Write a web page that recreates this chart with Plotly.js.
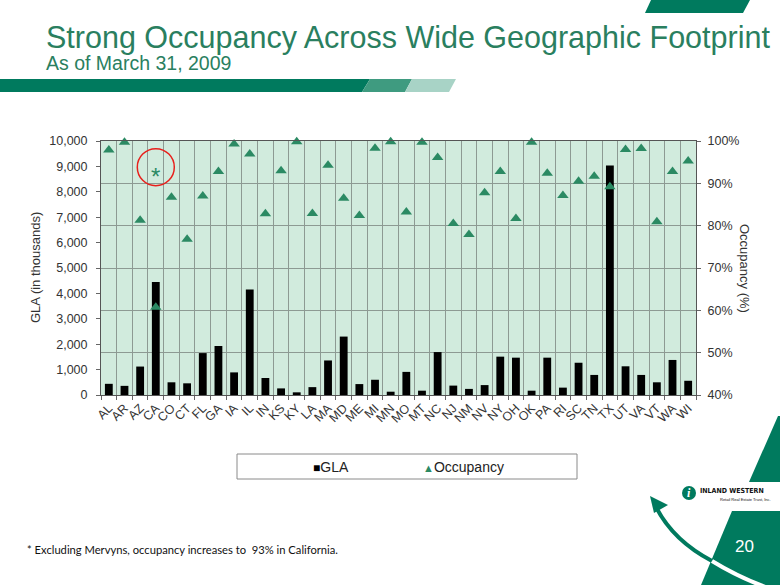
<!DOCTYPE html>
<html>
<head>
<meta charset="utf-8">
<script src="https://cdn.plot.ly/plotly-3.0.1.min.js"></script>
<style>
  html, body { margin: 0; padding: 0; background: #fff; }
  #chart { width: 780px; height: 585px; }
</style>
</head>
<body>
<div id="chart"></div>
<script>
// state codes on the x axis
const states = ["AL", "AR", "AZ", "CA", "CO", "CT", "FL", "GA", "IA", "IL", "IN", "KS", "KY",
  "LA", "MA", "MD", "ME", "MI", "MN", "MO", "MT", "NC", "NJ", "NM", "NV", "NY", "OH", "OK",
  "PA", "RI", "SC", "TN", "TX", "UT", "VA", "VT", "WA", "WI"];

// gross leasable area, in thousands of sq ft
const gla = [440, 360, 1120, 4450, 500, 460, 1650, 1930, 890, 4150, 670, 260, 105,
  310, 1360, 2300, 430, 600, 130, 910, 170, 1690, 370, 240, 390, 1510, 1470, 170,
  1470, 290, 1270, 790, 9040, 1130, 790, 500, 1380, 560];

// occupancy, percent
const occupancy = [97.9, 99.7, 81.3, 60.7, 86.7, 76.8, 87.0, 92.8, 99.3, 96.9, 82.8, 93.0, 99.8,
  82.9, 94.3, 86.5, 82.4, 98.3, 99.8, 83.2, 99.7, 96.1, 80.5, 77.9, 87.8, 92.8, 81.7, 99.7,
  92.4, 87.1, 90.5, 91.7, 89.2, 98.0, 98.2, 80.9, 92.8, 95.3];

// California excluding Mervyns
const noteState = "CA";
const noteOccupancy = 93;

const green = "#2b8a63";
const teal = "#007a5e";

// plot area in pixels, used to place the slide decorations
const L = 101, R = 696, T = 141, B = 395;
const px = x => (x - L) / (R - L);
const py = y => (B - y) / (B - T);

function poly(points, color) {
  return {
    type: "path", xref: "paper", yref: "paper", layer: "above",
    path: "M" + points.map(p => px(p[0]) + "," + py(p[1])).join("L") + "Z",
    fillcolor: color, line: { width: 0 }
  };
}

function label(text, x, y, opts) {
  return Object.assign({
    text: text, xref: "paper", yref: "paper", x: px(x), y: py(y),
    xanchor: "left", yanchor: "middle", showarrow: false,
    font: { family: "Liberation Sans, Arial, sans-serif", size: 13, color: "#333" }
  }, opts || {});
}

const data = [
  {
    x: states, y: gla, type: "bar", name: "GLA",
    marker: { color: "#000" }, yaxis: "y"
  },
  {
    x: states, y: occupancy, type: "scatter", mode: "markers", name: "Occupancy",
    marker: { symbol: "triangle-up", size: 10, color: green }, yaxis: "y2",
    cliponaxis: false
  }
];

const tickFont = { family: "Liberation Sans, Arial, sans-serif", size: 12.5, color: "#333" };

const layout = {
  width: 780, height: 585,
  margin: { l: L, r: 780 - R, t: T, b: 585 - B },
  paper_bgcolor: "#fff",
  plot_bgcolor: "#d1ebdd",
  showlegend: false,
  bargap: 0.5,
  title: {
    text: "Strong Occupancy Across Wide Geographic Footprint",
    xref: "container", yref: "container", x: 46 / 780, y: 1 - 37 / 585,
    xanchor: "left", yanchor: "middle",
    font: { family: "Liberation Sans, Arial, sans-serif", size: 30.5, color: "#2a7f5f" }
  },
  xaxis: {
    type: "category", range: [-0.5, states.length - 0.5],
    tickmode: "linear", tick0: 0, dtick: 1,
    tickson: "boundaries", ticks: "outside", ticklen: 4, tickcolor: "#666",
    showgrid: true, gridcolor: "#8d9a93", gridwidth: 1,
    showline: true, linecolor: "#555", mirror: true,
    tickangle: -45, tickfont: tickFont
  },
  yaxis: {
    range: [0, 10000], dtick: 1000, tickformat: ",d",
    showgrid: false, zeroline: false, ticks: "outside", ticklen: 4, tickcolor: "#666",
    showline: true, linecolor: "#555", tickfont: tickFont, ticklabelstandoff: 6
  },
  yaxis2: {
    overlaying: "y", side: "right", range: [40, 100], dtick: 10, ticksuffix: "%",
    showgrid: true, gridcolor: "#8d9a93", zeroline: false,
    ticks: "outside", ticklen: 4, tickcolor: "#666",
    showline: true, linecolor: "#555", tickfont: tickFont, ticklabelstandoff: 4
  },
  shapes: [
    // header band
    poly([[0, 79], [370, 79], [362, 92], [0, 92]], teal),
    poly([[370, 79], [412, 79], [405, 92], [362, 92]], "#3f9b80"),
    poly([[412, 79], [456, 79], [449, 92], [405, 92]], "#a8d3c6"),
    poly([[651, 0], [750, 0], [743, 13], [645, 13]], teal),
    // right side decoration
    poly([[778, 416], [780, 416], [780, 482], [749, 482]], teal),
    poly([[732, 511], [780, 511], [780, 585], [701, 585]], teal),
    {
      type: "path", xref: "paper", yref: "paper", layer: "above",
      path: "M" + px(712) + "," + py(561) + "Q" + px(672) + "," + py(540) + " " + px(655) + "," + py(505),
      fillcolor: "rgba(0,0,0,0)", line: { color: teal, width: 4 }
    },
    {
      type: "path", xref: "paper", yref: "paper", layer: "above",
      path: "M" + px(712) + "," + py(561) + "Q" + px(738) + "," + py(577) + " " + px(768) + "," + py(588),
      fillcolor: "rgba(0,0,0,0)", line: { color: "#fff", width: 4 }
    },
    poly([[650, 496], [654, 513], [668, 505]], teal),
    // logo mark
    {
      type: "circle", xref: "paper", yref: "paper", layer: "above",
      x0: px(682), x1: px(696), y0: py(500), y1: py(486),
      fillcolor: teal, line: { width: 0 }
    },
    // legend box
    {
      type: "rect", xref: "paper", yref: "paper", layer: "above",
      x0: px(237), x1: px(577), y0: py(479), y1: py(454),
      fillcolor: "#fff", line: { color: "#8a8a8a", width: 1 }
    },
    // red ring round the California note
    {
      type: "circle", xref: "x", yref: "y2", layer: "above",
      xsizemode: "pixel", ysizemode: "pixel",
      xanchor: noteState, yanchor: noteOccupancy,
      x0: -18.5, x1: 18.5, y0: -15, y1: 22,
      line: { color: "#e8201c", width: 1.5 }
    }
  ],
  annotations: [
    label("As of March 31, 2009", 44, 63,
      { font: { family: "Liberation Sans, Arial, sans-serif", size: 19.5, color: "#2a7f5f" } }),
    label("GLA (in thousands)", 35, 268, { xanchor: "center", textangle: -90 }),
    label("Occupancy (%)", 745, 268, { xanchor: "center", textangle: 90 }),
    {
      text: "*", x: noteState, y: noteOccupancy, xref: "x", yref: "y2",
      showarrow: false, yshift: -6,
      font: { family: "Liberation Sans, Arial, sans-serif", size: 24, color: green }
    },
    label('<span style="font-size:12px;color:#000">■</span>GLA', 311, 467,
      { font: { family: "Liberation Sans, Arial, sans-serif", size: 14, color: "#222" } }),
    label('<span style="font-size:11px;color:' + green + '">▲</span>Occupancy', 421, 467,
      { font: { family: "Liberation Sans, Arial, sans-serif", size: 14, color: "#222" } }),
    label("* Excluding Mervyns, occupancy increases to  93% in California.", 25, 549,
      { font: { family: "Lato, sans-serif", size: 11.2, color: "#111" } }),
    label("20", 744, 546,
      { xanchor: "center", font: { family: "Liberation Sans, Arial, sans-serif", size: 17, color: "#fff" } }),
    label("<b><i>i</i></b>", 689, 493,
      { xanchor: "center", font: { family: "Liberation Serif, serif", size: 12, color: "#fff" } }),
    label("<b>INLAND WESTERN</b>", 698, 491,
      { font: { family: "DejaVu Sans Condensed, sans-serif", size: 7, color: "#111" } }),
    label("Retail Real Estate Trust, Inc.", 718, 499,
      { font: { family: "Liberation Sans, Arial, sans-serif", size: 4, color: "#111" } })
  ]
};

Plotly.newPlot("chart", data, layout, { displayModeBar: false, staticPlot: true });
</script>
</body>
</html>
